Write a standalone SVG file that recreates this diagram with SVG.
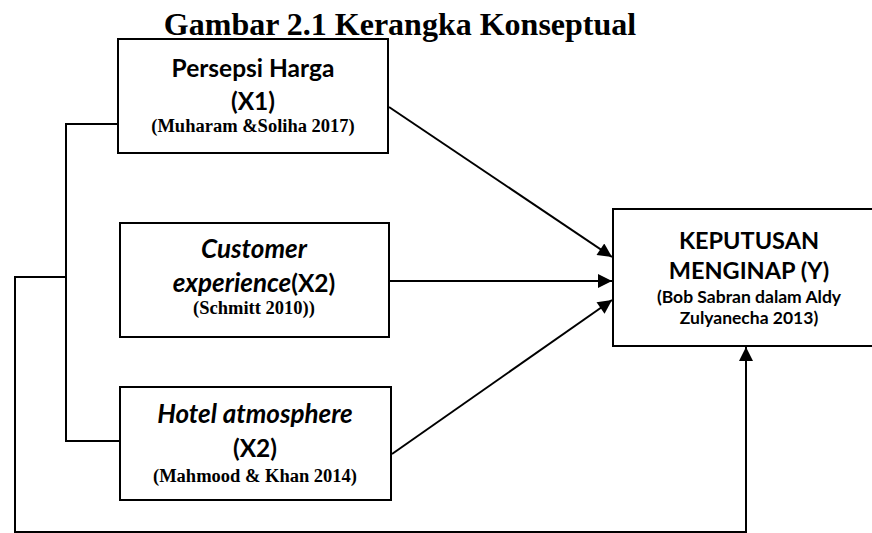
<svg xmlns="http://www.w3.org/2000/svg" width="872" height="533" viewBox="0 0 872 533">
<style>
.box{fill:#fff;stroke:#000;stroke-width:2}
.ln{fill:none;stroke:#000;stroke-width:2}
.t{font-family:Lato,"Open Sans","Liberation Sans",sans-serif;font-weight:bold;font-size:24.5px;text-anchor:middle;fill:#000}
.y{font-size:23.5px}
.i{font-style:italic;font-size:26px}
.c{font-family:"Liberation Serif","Times New Roman",serif;font-weight:bold;font-size:18.5px;text-anchor:middle;fill:#000}
.s{font-family:Lato,"Open Sans","Liberation Sans",sans-serif;font-weight:bold;font-size:17.5px;text-anchor:middle;fill:#000}
.title{font-family:"Liberation Serif","Times New Roman",serif;font-weight:bold;font-size:32px;text-anchor:middle;fill:#000}
</style>
<defs>
<marker id="ah" viewBox="0 0 10 10" refX="10" refY="5" markerWidth="8" markerHeight="7" markerUnits="strokeWidth" orient="auto">
<path d="M0,0 L10,5 L0,10 z" fill="#000"/>
</marker>
</defs>
<text class="title" x="400" y="35">Gambar 2.1 Kerangka Konseptual</text>
<g id="connectors">
<polyline class="ln" points="118,124 66,124 66,441 120,441"/>
<polyline class="ln" points="66,277 15,277 15,532 746,532 746,347" marker-end="url(#ah)"/>
<line class="ln" x1="389" y1="107" x2="612" y2="257" marker-end="url(#ah)"/>
<line class="ln" x1="390" y1="281" x2="612" y2="281" marker-end="url(#ah)"/>
<line class="ln" x1="392" y1="454" x2="612" y2="300" marker-end="url(#ah)"/>
</g>
<g id="node-x1">
<rect class="box" x="118" y="39" width="270" height="114"/>
<text class="t" x="253" y="77">Persepsi Harga</text>
<text class="t" x="253" y="110">(X1)</text>
<text class="c" x="253" y="132">(Muharam &amp;Soliha 2017)</text>
</g>
<g id="node-x2">
<rect class="box" x="120" y="223" width="269" height="114"/>
<text class="t i" x="254" y="258">Customer</text>
<text class="t" x="254" y="292"><tspan class="i">experience</tspan>(X2)</text>
<text class="c" x="254" y="314">(Schmitt 2010))</text>
</g>
<g id="node-x3">
<rect class="box" x="120" y="387" width="271" height="113"/>
<text class="t i" x="255" y="423">Hotel atmosphere</text>
<text class="t" x="255" y="457">(X2)</text>
<text class="c" x="255" y="482">(Mahmood &amp; Khan 2014)</text>
</g>
<g id="node-y">
<rect class="box" x="613" y="209" width="262" height="137"/>
<text class="t y" x="749" y="249">KEPUTUSAN</text>
<text class="t y" x="749" y="279">MENGINAP (Y)</text>
<text class="s" x="749" y="303">(Bob Sabran dalam Aldy</text>
<text class="s" x="749" y="324">Zulyanecha 2013)</text>
</g>
</svg>
